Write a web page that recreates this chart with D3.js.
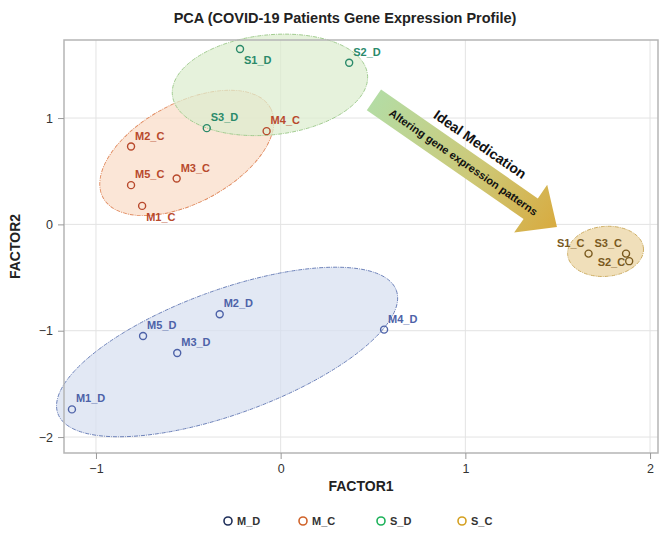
<!DOCTYPE html>
<html lang="en">
<head>
  <meta charset="UTF-8">
  <title>PCA (COVID-19 Patients Gene Expression Profile)</title>
  <style>
    body { margin: 0; background: #fff; font-family: "Liberation Sans", Arial, sans-serif; }
    .tick text { font-size: 12.5px; fill: #333; }
    .lbl { font-size: 11px; font-weight: bold; }
  </style>
</head>
<body>
  <div id="chart"></div>
  <script src="https://d3js.org/d3.v7.min.js"></script>
  <script>
    // sample names, groups and PCA scores
    const names = ["M1_D","M2_D","M3_D","M4_D","M5_D",
                   "M1_C","M2_C","M3_C","M4_C","M5_C",
                   "S1_D","S2_D","S3_D",
                   "S1_C","S2_C","S3_C"];
    const groups = ["M_D","M_D","M_D","M_D","M_D",
                    "M_C","M_C","M_C","M_C","M_C",
                    "S_D","S_D","S_D",
                    "S_C","S_C","S_C"];
    const factor1 = [-1.13, -0.33, -0.56, 0.56, -0.745,
                     -0.75, -0.81, -0.563, -0.076, -0.81,
                     -0.22, 0.371, -0.40,
                     1.667, 1.887, 1.87];
    const factor2 = [-1.74, -0.845, -1.21, -0.99, -1.05,
                     0.174, 0.732, 0.431, 0.877, 0.369,
                     1.65, 1.52, 0.905,
                     -0.275, -0.346, -0.275];

    const groupNames = ["M_D","M_C","S_D","S_C"];
    // group ellipses: centre, semi axes (data units), tilt in degrees
    const ellCx = [-0.29, -0.508, -0.058, 1.759];
    const ellCy = [-1.20, 0.672, 1.312, -0.254];
    const ellRx = [0.975, 0.514, 0.531, 0.206];
    const ellRy = [0.583, 0.470, 0.470, 0.235];
    const ellTilt = [-20, -28, -6, -5];

    const xTicks = [-1, 0, 1, 2];
    const yTicks = [-2, -1, 0, 1];

    const colors = {
      M_D: { pt: "#4d62a8", fill: "#d7dff0", stroke: "#6a7fb8", legend: "#1f2f5a" },
      M_C: { pt: "#b8492c", fill: "#f9dcc8", stroke: "#e08a5e", legend: "#d0632a" },
      S_D: { pt: "#2a8a6a", fill: "#dcedcf", stroke: "#9cc98a", legend: "#1db25a" },
      S_C: { pt: "#7a5a1e", fill: "#ead39f", stroke: "#c9a85a", legend: "#d4a020" }
    };
    // where each label sits relative to its marker
    const labelPos = { S1_D: "se", S1_C: "nw", S3_C: "nw", S2_C: "w", M1_C: "se" };

    const width = 669, height = 548;
    const margin = { top: 40, right: 11, bottom: 95, left: 64 };

    const svg = d3.select("#chart").append("svg")
      .attr("width", width).attr("height", height);

    const x = d3.scaleLinear().domain([-1.173, 2.043])
      .range([margin.left, width - margin.right]);
    const y = d3.scaleLinear().domain([-2.15, 1.734])
      .range([height - margin.bottom, margin.top]);

    // grid
    svg.append("g").selectAll("line").data(xTicks).join("line")
      .attr("x1", d => x(d)).attr("x2", d => x(d))
      .attr("y1", margin.top).attr("y2", height - margin.bottom)
      .attr("stroke", "#e3e3e3");
    svg.append("g").selectAll("line").data(yTicks).join("line")
      .attr("y1", d => y(d)).attr("y2", d => y(d))
      .attr("x1", margin.left).attr("x2", width - margin.right)
      .attr("stroke", "#e3e3e3");

    // ellipses
    svg.append("g").selectAll("ellipse").data(groupNames).join("ellipse")
      .attr("cx", 0).attr("cy", 0)
      .attr("rx", (d, i) => x(ellCx[i] + ellRx[i]) - x(ellCx[i]))
      .attr("ry", (d, i) => y(ellCy[i]) - y(ellCy[i] + ellRy[i]))
      .attr("transform", (d, i) => `translate(${x(ellCx[i])},${y(ellCy[i])}) rotate(${ellTilt[i]})`)
      .attr("fill", d => colors[d].fill)
      .attr("fill-opacity", 0.72)
      .attr("stroke", d => colors[d].stroke)
      .attr("stroke-dasharray", "4,1,1,1")
      .attr("stroke-width", 0.9);

    // arrow annotation
    const arrowFrom = [0.505, 1.171], arrowTo = [1.496, -0.024];
    const ax0 = x(arrowFrom[0]), ay0 = y(arrowFrom[1]);
    const ax1 = x(arrowTo[0]), ay1 = y(arrowTo[1]);
    const ang = Math.atan2(ay1 - ay0, ax1 - ax0) * 180 / Math.PI;
    const len = Math.hypot(ax1 - ax0, ay1 - ay0);
    const defs = svg.append("defs");
    const grad = defs.append("linearGradient").attr("id", "arrowGrad")
      .attr("x1", "0%").attr("x2", "100%");
    grad.append("stop").attr("offset", "0%").attr("stop-color", "#b4dca4");
    grad.append("stop").attr("offset", "55%").attr("stop-color", "#cdc978");
    grad.append("stop").attr("offset", "100%").attr("stop-color", "#d8ab40");
    const ag = svg.append("g").attr("transform", `translate(${ax0},${ay0}) rotate(${ang})`);
    const sw = 12.5, hw = 29, hl = 32;
    ag.append("path")
      .attr("d", `M0,${-sw} L${len - hl},${-sw} L${len - hl},${-hw} L${len},0 L${len - hl},${hw} L${len - hl},${sw} L0,${sw} Z`)
      .attr("fill", "url(#arrowGrad)");
    ag.append("text").attr("x", len * 0.505).attr("y", -19)
      .attr("text-anchor", "middle").attr("font-size", 14).attr("font-weight", "bold")
      .attr("fill", "#111").text("Ideal Medication");
    ag.append("text").attr("x", len * 0.49).attr("y", 4)
      .attr("text-anchor", "middle").attr("font-size", 11).attr("font-weight", "bold")
      .attr("fill", "#111").text("Altering gene expression patterns");

    // frame
    svg.append("rect")
      .attr("x", margin.left).attr("y", margin.top)
      .attr("width", width - margin.left - margin.right)
      .attr("height", height - margin.top - margin.bottom)
      .attr("fill", "none").attr("stroke", "#b5b5b5").attr("stroke-width", 1.5);

    // axes
    const xAxis = svg.append("g").attr("transform", `translate(0,${height - margin.bottom})`)
      .call(d3.axisBottom(x).tickValues(xTicks).tickSize(6).tickPadding(5).tickFormat(d3.format("d")));
    const yAxis = svg.append("g").attr("transform", `translate(${margin.left},0)`)
      .call(d3.axisLeft(y).tickValues(yTicks).tickSize(6).tickPadding(5).tickFormat(d3.format("d")));
    [xAxis, yAxis].forEach(a => {
      a.select(".domain").remove();
      a.selectAll(".tick line").attr("stroke", "#999");
    });

    // points
    const pts = names.map((n, i) => ({ name: n, group: groups[i], f1: factor1[i], f2: factor2[i] }));
    svg.append("g").selectAll("circle").data(pts).join("circle")
      .attr("cx", d => x(d.f1)).attr("cy", d => y(d.f2)).attr("r", 3.5)
      .attr("fill", "none").attr("stroke", d => colors[d.group].pt).attr("stroke-width", 1.4);

    svg.append("g").selectAll("text").data(pts).join("text")
      .attr("class", "lbl")
      .attr("fill", d => colors[d.group].pt)
      .attr("x", d => {
        const p = labelPos[d.name];
        return x(d.f1) + (p === "nw" || p === "w" ? -4 : 4);
      })
      .attr("y", d => {
        const p = labelPos[d.name];
        if (p === "se") return y(d.f2) + 15;
        if (p === "w") return y(d.f2) + 5;
        return y(d.f2) - 7;
      })
      .attr("text-anchor", d => {
        const p = labelPos[d.name];
        return p === "nw" || p === "w" ? "end" : "start";
      })
      .text(d => d.name);

    // titles
    svg.append("text").attr("x", 345).attr("y", 23).attr("text-anchor", "middle")
      .attr("font-size", 14.5).attr("font-weight", "bold").attr("fill", "#222")
      .text("PCA (COVID-19 Patients Gene Expression Profile)");
    svg.append("text").attr("x", (margin.left + width - margin.right) / 2).attr("y", 491)
      .attr("text-anchor", "middle").attr("font-size", 14).attr("font-weight", "bold").attr("fill", "#222")
      .text("FACTOR1");
    svg.append("text")
      .attr("transform", `translate(20,${(margin.top + height - margin.bottom) / 2}) rotate(-90)`)
      .attr("text-anchor", "middle").attr("font-size", 14).attr("font-weight", "bold").attr("fill", "#222")
      .text("FACTOR2");

    // legend
    const legX = [228, 303, 381, 462];
    const leg = svg.append("g").selectAll("g").data(groupNames).join("g")
      .attr("transform", (d, i) => `translate(${legX[i]},521)`);
    leg.append("circle").attr("r", 4).attr("fill", "none")
      .attr("stroke", d => colors[d].legend).attr("stroke-width", 1.6);
    leg.append("text").attr("x", 9).attr("y", 4).attr("font-size", 11).attr("font-weight", "bold")
      .attr("fill", "#333").text(d => d);
  </script>
</body>
</html>
